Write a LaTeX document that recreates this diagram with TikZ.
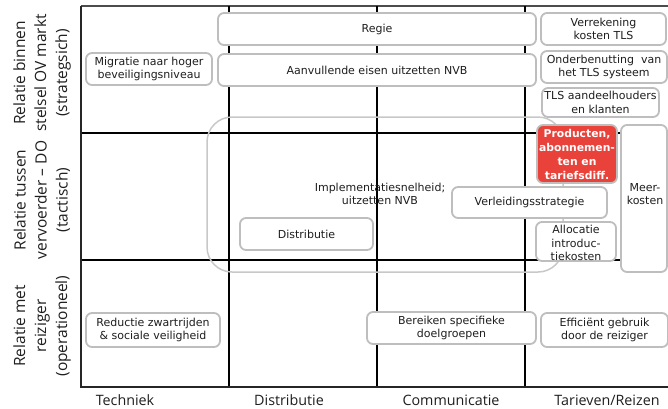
\documentclass[tikz,border=0pt]{standalone}
\usepackage{fontspec}
\setmainfont{DejaVu Sans}
\newfontfamily\axisfont{Open Sans}
\definecolor{boxgray}{RGB}{190,190,190}
\definecolor{biggray}{RGB}{200,200,200}
\definecolor{textdark}{RGB}{30,30,30}
\definecolor{hotred}{RGB}{232,66,58}
\tikzset{
  cell/.style={draw=boxgray, line width=1.8pt, fill=white, rounded corners=6pt,
    align=center, inner sep=0pt, text=textdark,
    font=\fontsize{11}{13.5}\selectfont},
  hotcell/.style={cell, fill=hotred, text=white,
    font=\fontsize{10.8}{14}\selectfont\bfseries},
  plaintext/.style={align=center, text=textdark, inner sep=0pt,
    font=\fontsize{11}{13.5}\selectfont},
  rowlab/.style={rotate=90, align=center, text=textdark,
    font=\axisfont\fontsize{15.5}{21}\selectfont},
  collab/.style={text=textdark, font=\axisfont\fontsize{14.3}{16}\selectfont},
  gridline/.style={line width=1.1pt, black},
  axisline/.style={line width=1.8pt, black!85},
}
\begin{document}
\begin{tikzpicture}[x=1pt, y=-1pt]
\useasboundingbox (0,0) rectangle (668,408);

% matrix grid
\draw[line width=1.4pt, black!70] (81,6) -- (668,6);
\foreach \gx in {229,377,525} \draw[gridline] (\gx,6) -- (\gx,387);
\foreach \gy in {133,260} \draw[gridline] (81,\gy) -- (668,\gy);
\draw[axisline] (81,6) -- (81,387) -- (668,387);

% wide frame round the tactical row
\draw[biggray, line width=1.5pt, rounded corners=25pt] (207,117) rectangle (563,272);
\node[plaintext] (impl) at (380,194) {Implementatiesnelheid;\\uitzetten NVB};

% strategic row
\node[cell, minimum width=318pt, minimum height=32pt] (regie) at (377,29) {Regie};
\node[cell, minimum width=318pt, minimum height=32pt] (aanv) at (377,70) {Aanvullende eisen uitzetten NVB};
\node[cell, minimum width=126pt, minimum height=32pt] (migr) at (149,69) {Migratie naar hoger\\beveiligingsniveau};
\node[cell, minimum width=125pt, minimum height=32pt] (verr) at (603.5,29) {Verrekening\\kosten TLS};
\node[cell, minimum width=126pt, minimum height=32pt] (onder) at (604,67) {Onderbenutting\ \ van\\het TLS systeem};
\node[cell, minimum width=117pt, minimum height=29pt] (tlsa) at (600.5,102.5) {TLS aandeelhouders\\en klanten};

% tactical row
\node[hotcell, minimum width=80pt, minimum height=58pt] (prod) at (577,154) {Producten,\\abonnemen-\\ten en\\tariefsdiff.};
\node[cell, minimum width=46pt, minimum height=147pt] (meer) at (644,198.5) {};
\node[plaintext] (meertxt) at (645,194) {Meer-\\kosten};
\node[cell, minimum width=155pt, minimum height=31pt] (verl) at (529.5,202.5) {Verleidingsstrategie};
\node[cell, minimum width=80pt, minimum height=39pt] (alloc) at (576,241.5) {};
\node[plaintext] (alloctxt) at (576,243) {Allocatie\\introduc-\\tiekosten};
\node[cell, minimum width=133pt, minimum height=32pt] (distr) at (306.5,234) {Distributie};

% operational row
\node[cell, minimum width=134pt, minimum height=34pt] (reduc) at (153,330) {Reductie zwartrijden\\\&\ sociale veiligheid};
\node[cell, minimum width=169pt, minimum height=32pt] (bereik) at (451.5,328) {Bereiken specifieke\\doelgroepen};
\node[cell, minimum width=127pt, minimum height=34pt] (effic) at (604.5,330) {Efficiënt gebruik\\door de reiziger};

% row labels
\node[rowlab] (row1) at (42,73) {Relatie binnen\\stelsel OV markt\\(strategsich)};
\node[rowlab] (row2) at (42,200) {Relatie tussen\\vervoerder – DO\\(tactisch)};
\node[rowlab] (row3) at (42,326) {Relatie met\\reiziger\\(operationeel)};

% column labels
\node[collab] (col1) at (125,400) {Techniek};
\node[collab] (col2) at (289,400) {Distributie};
\node[collab] (col3) at (451,400) {Communicatie};
\node[collab] (col4) at (607,400) {Tarieven/Reizen};
\end{tikzpicture}
\end{document}
